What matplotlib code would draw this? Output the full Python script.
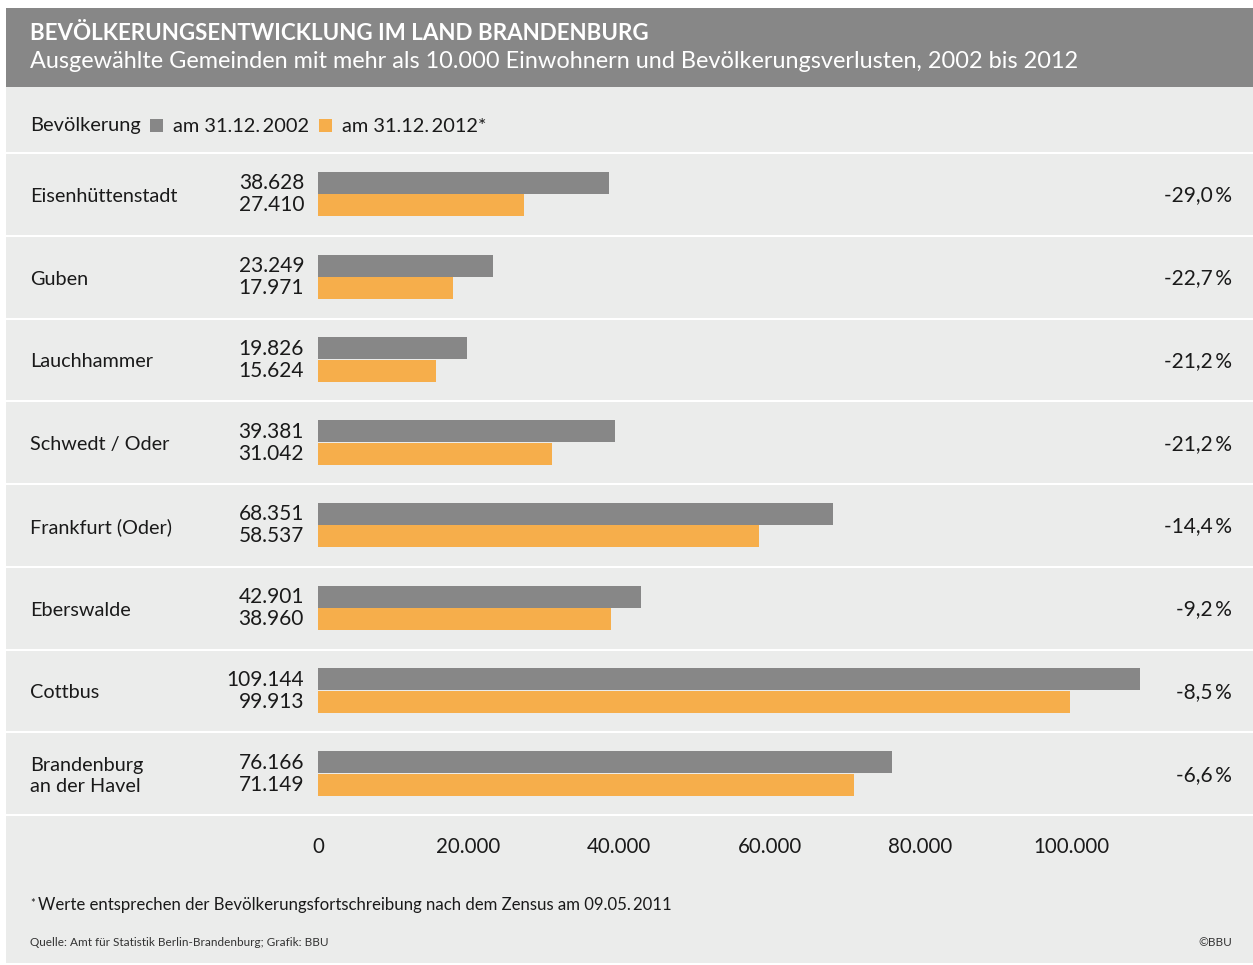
import matplotlib.pyplot as plt
from matplotlib.patches import Rectangle

plt.rcParams['font.family'] = ['Lato', 'DejaVu Sans']

# Gemeinden und Einwohnerzahlen
cities = ['Eisenhüttenstadt', 'Guben', 'Lauchhammer', 'Schwedt / Oder',
          'Frankfurt (Oder)', 'Eberswalde', 'Cottbus', 'Brandenburg\nan der Havel']
pop_2002 = [38628, 23249, 19826, 39381, 68351, 42901, 109144, 76166]
pop_2012 = [27410, 17971, 15624, 31042, 58537, 38960, 99913, 71149]
change = ['-29,0', '-22,7', '-21,2', '-21,2', '-14,4', '-9,2', '-8,5', '-6,6']
ticks = [0, 20000, 40000, 60000, 80000, 100000]

GRAY = '#878787'
ORANGE = '#f6ae4b'
PANEL = '#ebeceb'
TEXT = '#1a1a1a'
TS = '\u2009'  # schmales Leerzeichen


def fmt(v):
    return f'{v:,}'.replace(',', '.')


W, H = 1253, 965
fig = plt.figure(figsize=(W / 100, H / 100), dpi=100)

# Hintergrund in Pixelkoordinaten
bg = fig.add_axes([0, 0, 1, 1])
bg.set_xlim(0, W)
bg.set_ylim(H, 0)
bg.axis('off')
bg.add_patch(Rectangle((6, 87), W - 6, 876, color=PANEL, lw=0))
bg.add_patch(Rectangle((6, 8), W - 6, 79, color=GRAY, lw=0))

bg.text(30, 34, 'BEVÖLKERUNGSENTWICKLUNG IM LAND BRANDENBURG', color='white',
        fontsize=16.1, fontweight='bold', va='center')
bg.text(30, 62, 'Ausgewählte Gemeinden mit mehr als 10.000 Einwohnern und '
        'Bevölkerungsverlusten, 2002 bis 2012', color='white', fontsize=16.9, va='center')

# Legende
bg.text(30, 126, 'Bevölkerung', color=TEXT, fontsize=14.4, va='center')
bg.add_patch(Rectangle((150, 119), 13, 13, color=GRAY, lw=0))
bg.text(173, 126, f'am 31.12.{TS}2002', color=TEXT, fontsize=14.4, va='center')
bg.add_patch(Rectangle((319, 119), 13, 13, color=ORANGE, lw=0))
bg.text(342, 126, f'am 31.12.{TS}2012*', color=TEXT, fontsize=14.4, va='center')

# Zeilentrenner
top, bottom = 153, 815
row_h = (bottom - top) / len(cities)
for i in range(len(cities) + 1):
    y = top + i * row_h
    bg.plot([6, W], [y, y], color='white', lw=1.5)

for i, (city, a, b, pct) in enumerate(zip(cities, pop_2002, pop_2012, change)):
    yc = top + (i + 0.5) * row_h
    bg.text(30, yc + 2, city, color=TEXT, fontsize=14.3, va='center', linespacing=1.3)
    bg.text(304, yc - 11, fmt(a), color=TEXT, fontsize=15, va='center', ha='right')
    bg.text(304, yc + 11, fmt(b), color=TEXT, fontsize=15, va='center', ha='right')
    bg.text(1232, yc + 1, f'{pct}{TS}%', color=TEXT, fontsize=15, va='center', ha='right')

# Balken
ax_l, ax_r = 318, 318 + 753 * 1.2
ax = fig.add_axes([ax_l / W, 1 - bottom / H, (ax_r - ax_l) / W, (bottom - top) / H])
ax.set_xlim(0, 120000)
ax.set_ylim(len(cities) - 0.5, -0.5)
ax.patch.set_alpha(0)
for s in ax.spines.values():
    s.set_visible(False)
ypos = list(range(len(cities)))
bh = 22 / row_h
ax.barh([y - 0.139 for y in ypos], pop_2002, height=bh, color=GRAY, lw=0)
ax.barh([y + 0.133 for y in ypos], pop_2012, height=bh, color=ORANGE, lw=0)
ax.set_yticks([])
ax.set_xticks(ticks)
ax.set_xticklabels([fmt(t) for t in ticks], fontsize=14.8, color=TEXT)
ax.tick_params(axis='x', length=0, pad=16)

# Fußnoten
bg.text(30, 903, '*', color=TEXT, fontsize=8, va='center')
bg.text(38, 905, f'Werte entsprechen der Bevölkerungsfortschreibung nach dem Zensus am 09.05.{TS}2011',
        color=TEXT, fontsize=12.1, va='center')
bg.text(30, 943, 'Quelle: Amt für Statistik Berlin-Brandenburg; Grafik: BBU',
        color='#333333', fontsize=8.5, va='center')
bg.text(1232, 943, '©BBU', color='#333333', fontsize=8.5, va='center', ha='right')

fig.savefig('out.png', dpi=100)
